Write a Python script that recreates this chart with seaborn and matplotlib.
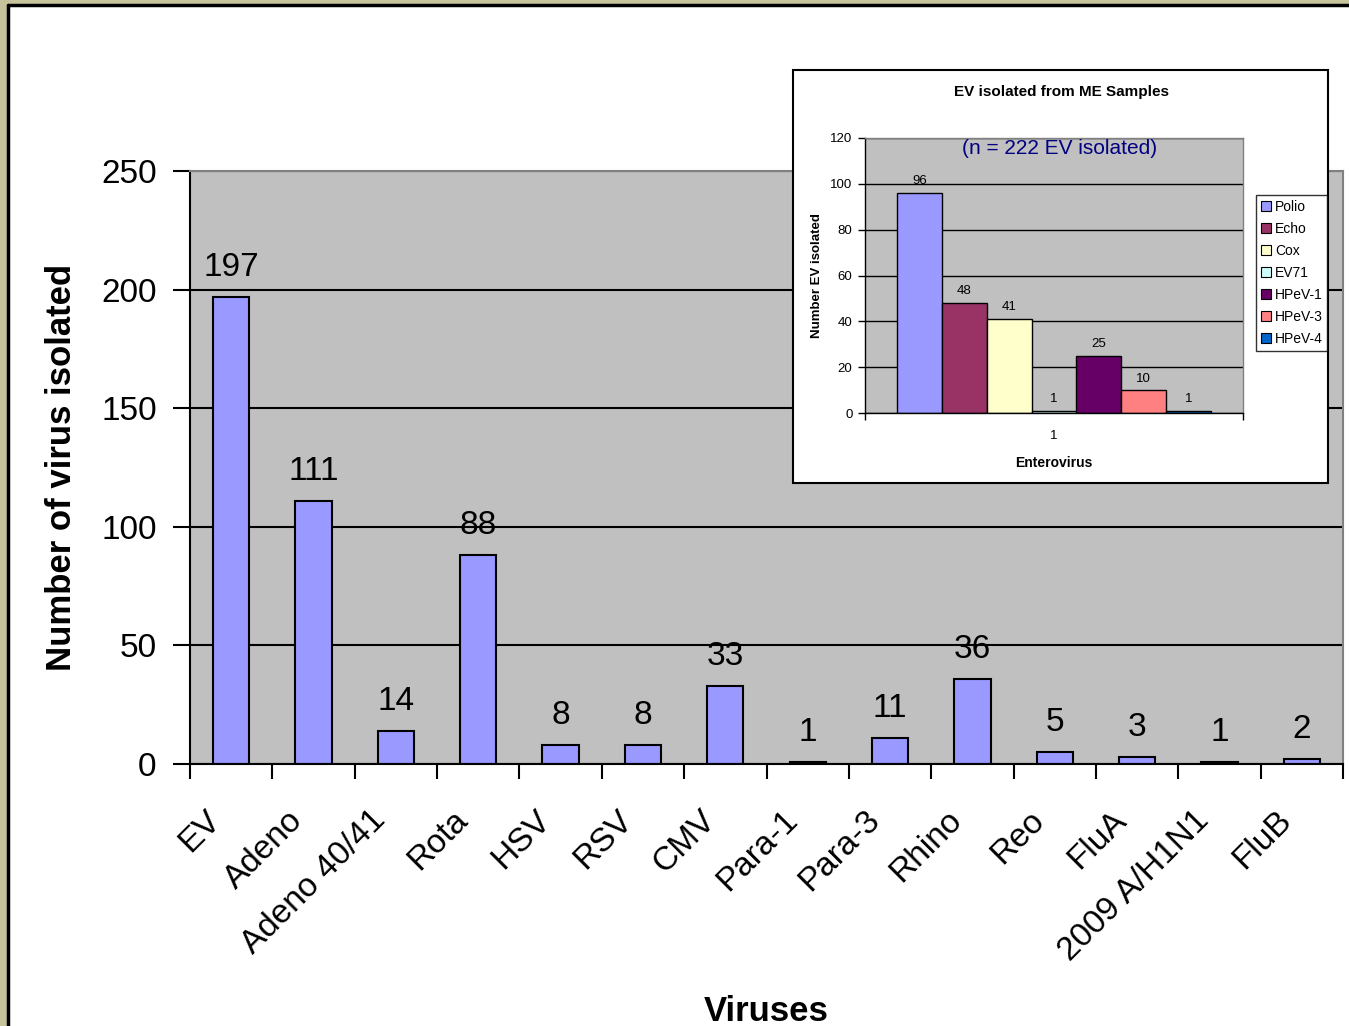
import numpy as np
import pandas as pd
import matplotlib
matplotlib.use("Agg")
import matplotlib.pyplot as plt
import seaborn as sns
from matplotlib.patches import Rectangle, Patch
from matplotlib.lines import Line2D
import matplotlib.transforms as mtransforms

# Main chart: viruses isolated
viruses = ["EV", "Adeno", "Adeno 40/41", "Rota", "HSV", "RSV", "CMV",
           "Para-1", "Para-3", "Rhino", "Reo", "FluA", "2009 A/H1N1", "FluB"]
counts = [197, 111, 14, 88, 8, 8, 33, 1, 11, 36, 5, 3, 1, 2]
main_yticks = [0, 50, 100, 150, 200, 250]

# Inset: enterovirus types
ev_types = ["Polio", "Echo", "Cox", "EV71", "HPeV-1", "HPeV-3", "HPeV-4"]
ev_counts = [96, 48, 41, 1, 25, 10, 1]
ev_colors = ["#9999FF", "#993366", "#FFFFCC", "#CCFFFF", "#660066", "#FF8080", "#0066CC"]
inset_yticks = [0, 20, 40, 60, 80, 100, 120]

sns.set_theme(style="white")
plt.rcParams["font.family"] = ["Liberation Sans", "DejaVu Sans"]
plt.rcParams.update({"text.color": "black", "axes.labelcolor": "black",
                     "xtick.color": "black", "ytick.color": "black"})

W, H = 1349, 1026
fig = plt.figure(figsize=(W / 100, H / 100), dpi=100)
fig.patch.set_facecolor("#C7C39B")

# white slide panel with dark edge
fig.add_artist(Rectangle((8 / W, 0), 1, 1 - 5 / H, transform=fig.transFigure,
                         facecolor="white", edgecolor="none", zorder=-2))
fig.add_artist(Line2D([8 / W, 8 / W], [0, 1 - 5 / H], transform=fig.transFigure,
                      color="black", lw=2.5, zorder=-1))
fig.add_artist(Line2D([8 / W, 1], [1 - 5 / H, 1 - 5 / H], transform=fig.transFigure,
                      color="black", lw=2.5, zorder=-1))

# ---------------- main axes ----------------
ax = fig.add_axes([190 / W, 1 - 764 / H, (1343 - 190) / W, (764 - 171) / H])
ax.set_facecolor("#C0C0C0")
df_main = pd.DataFrame({"virus": viruses, "n": counts})
sns.barplot(data=df_main, x="virus", y="n", color="#9999FF", saturation=1,
            edgecolor="black", linewidth=1.5, width=0.44, ax=ax)
ax.set_xlim(-0.5, len(viruses) - 0.5)
ax.set_ylim(0, 250)
ax.set_yticks(main_yticks)
ax.yaxis.grid(True, color="black", lw=1.5)
ax.set_axisbelow(True)
for s in ["left", "bottom"]:
    ax.spines[s].set_color("black")
    ax.spines[s].set_linewidth(1.5)
for s in ["top", "right"]:
    ax.spines[s].set_color("#808080")
    ax.spines[s].set_linewidth(1.5)

ax.set_xticks(np.arange(len(viruses)))
ax.set_xticks(np.arange(-0.5, len(viruses), 1), minor=True)
ax.tick_params(axis="x", which="major", length=0, pad=14, labelsize=24)
ax.tick_params(axis="x", which="minor", length=11, width=1.5, color="black",
               direction="out", bottom=True)
ax.tick_params(axis="y", length=12, width=1.5, color="black", direction="out",
               left=True, pad=12, labelsize=24)
offset = mtransforms.ScaledTranslation(-26 / 100, -21 / 100, fig.dpi_scale_trans)
for lab in ax.get_xticklabels():
    lab.set_rotation(45)
    lab.set_ha("right")
    lab.set_va("top")
    lab.set_rotation_mode("anchor")
    lab.set_transform(lab.get_transform() + offset)

for c in ax.containers:
    ax.bar_label(c, labels=[str(v) for v in counts], padding=10, fontsize=24)

ax.set_xlabel("Viruses", fontsize=25, fontweight="bold")
ax.set_ylabel("Number of virus isolated", fontsize=25, fontweight="bold")
ax.xaxis.set_label_coords(0.5, -0.39)
ax.yaxis.set_label_coords(-0.097, 0.5)

# ---------------- inset chart ----------------
fig.add_artist(Rectangle((793 / W, 1 - 483 / H), (1328 - 793) / W, (483 - 70) / H,
                         transform=fig.transFigure, facecolor="white",
                         edgecolor="black", lw=1.5, zorder=2))

axi = fig.add_axes([865 / W, 1 - 413 / H, (1243 - 865) / W, (413 - 138) / H])
axi.set_zorder(3)
axi.set_facecolor("#C0C0C0")
df_ev = pd.DataFrame({"group": ["1"] * len(ev_types), "type": ev_types, "n": ev_counts})
sns.barplot(data=df_ev, x="group", y="n", hue="type", hue_order=ev_types,
            palette=ev_colors, saturation=1, edgecolor="black", linewidth=1,
            width=0.83, dodge=True, legend=False, ax=axi)
axi.set_xlim(-0.5, 0.5)
axi.set_ylim(0, 120)
axi.set_yticks(inset_yticks)
axi.yaxis.grid(True, color="black", lw=1)
axi.set_axisbelow(True)
for s in ["left", "bottom"]:
    axi.spines[s].set_color("black")
    axi.spines[s].set_linewidth(1)
for s in ["top", "right"]:
    axi.spines[s].set_color("#808080")
    axi.spines[s].set_linewidth(1)
axi.set_xticks([0])
axi.set_xticklabels(["1"])
axi.set_xticks([-0.5, 0.5], minor=True)
axi.tick_params(axis="x", which="major", length=0, pad=12, labelsize=9.5)
axi.tick_params(axis="x", which="minor", length=5, width=1, color="black",
                direction="out", bottom=True)
axi.tick_params(axis="y", length=5, width=1, color="black", direction="out",
                left=True, pad=4, labelsize=9.5)
for c, v in zip(axi.containers, ev_counts):
    axi.bar_label(c, labels=[str(v)], padding=4, fontsize=9.5)

axi.set_xlabel("Enterovirus", fontsize=10, fontweight="bold", labelpad=10)
axi.set_ylabel("Number EV isolated", fontsize=9.5, fontweight="bold")
axi.yaxis.set_label_coords(-0.11, 0.5)
axi.text(0.516, 0.962, "(n = 222 EV isolated)", transform=axi.transAxes,
         ha="center", va="center", fontsize=15, color="#000080")
fig.text(1061 / W, 1 - 92 / H, "EV isolated from ME Samples", ha="center",
         va="center", fontsize=11, fontweight="bold", zorder=4)

handles = [Patch(facecolor=col, edgecolor="black", lw=0.8, label=t)
           for t, col in zip(ev_types, ev_colors)]
leg = fig.legend(handles=handles, loc="upper left",
                 bbox_to_anchor=(1256 / W, 1 - 195 / H), fontsize=10,
                 frameon=True, fancybox=False, edgecolor="black",
                 handlelength=0.7, handleheight=0.7, handletextpad=0.3,
                 labelspacing=0.58, borderpad=0.35, borderaxespad=0)
leg.get_frame().set_linewidth(1)
leg.set_zorder(5)

fig.savefig("out.png", dpi=100)
